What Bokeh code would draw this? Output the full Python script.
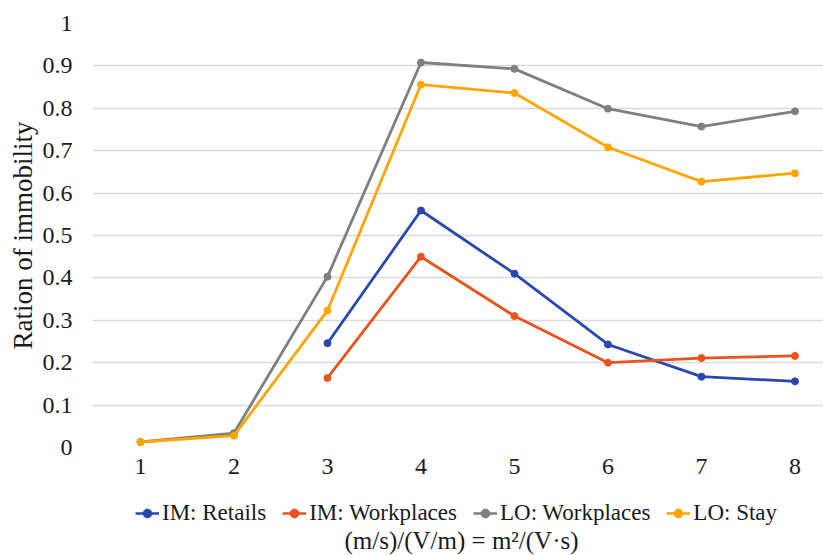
from bokeh.plotting import figure
from bokeh.layouts import column
from bokeh.models import Range1d, FixedTicker, CustomJSTickFormatter, Legend, LegendItem, Label
from bokeh.embed import file_html
from bokeh.resources import INLINE

x_all = [1, 2, 3, 4, 5, 6, 7, 8]
x_im = [3, 4, 5, 6, 7, 8]
im_retails = [0.246, 0.559, 0.410, 0.243, 0.167, 0.156]
im_workplaces = [0.164, 0.450, 0.310, 0.200, 0.211, 0.216]
lo_workplaces = [0.013, 0.034, 0.403, 0.908, 0.893, 0.799, 0.757, 0.793]
lo_stay = [0.013, 0.028, 0.323, 0.856, 0.836, 0.708, 0.627, 0.647]
y_ticks = [0, 0.1, 0.2, 0.3, 0.4, 0.5, 0.6, 0.7, 0.8, 0.9, 1.0]
series_names = ["IM: Retails", "IM: Workplaces", "LO: Workplaces", "LO: Stay"]
series_colors = ["#2A47B0", "#E9541C", "#7F7F7F", "#FFA500"]
x_title = "(m/s)/(V/m) = m²/(V·s)"
y_title = "Ration of immobility"

SERIF = "Liberation Serif"
TXT = "#1a1a1a"
W = 823
LEFT = 92

# ---- main chart ----
p = figure(width=W, height=484, output_backend="svg", toolbar_location=None,
           x_range=Range1d(0.487, 8.305), y_range=Range1d(0, 1.0),
           min_border_left=LEFT, min_border_right=0, min_border_top=23, min_border_bottom=37)
p.outline_line_color = None
p.xgrid.grid_line_color = None
p.ygrid.grid_line_color = "#D9D9D9"
p.ygrid.grid_line_width = 1.5

p.xaxis.ticker = FixedTicker(ticks=x_all)
p.yaxis.ticker = FixedTicker(ticks=y_ticks)
p.yaxis.formatter = CustomJSTickFormatter(code="return String(Math.round(tick*10)/10)")
for ax in (p.xaxis[0], p.yaxis[0]):
    ax.axis_line_color = None
    ax.major_tick_line_color = None
    ax.minor_tick_line_color = None
    ax.major_label_text_font = SERIF
    ax.major_label_text_font_size = "24px"
    ax.major_label_text_color = TXT
p.yaxis.major_label_standoff = 14
p.xaxis.major_label_standoff = 5
p.yaxis.axis_label = y_title
p.yaxis.axis_label_text_font = SERIF
p.yaxis.axis_label_text_font_size = "27px"
p.yaxis.axis_label_text_font_style = "normal"
p.yaxis.axis_label_text_color = TXT
p.yaxis.axis_label_standoff = 2

series_data = [(x_im, im_retails), (x_im, im_workplaces), (x_all, lo_workplaces), (x_all, lo_stay)]
for (xs, ys), col in zip(series_data, series_colors):
    p.line(xs, ys, line_color=col, line_width=2.8)
    p.scatter(xs, ys, marker="circle", size=7, fill_color=col, line_color=col)

# ---- legend + x-axis title strip ----
H2 = 71
q = figure(width=W, height=H2, output_backend="svg", toolbar_location=None,
           x_range=Range1d(0, W - LEFT), y_range=Range1d(0, H2),
           min_border_left=LEFT, min_border_right=0, min_border_top=0, min_border_bottom=0,
           x_axis_type=None, y_axis_type=None)
q.outline_line_color = None
q.grid.grid_line_color = None
nan = float("nan")
items = []
for name, col in zip(series_names, series_colors):
    l = q.line(x=[nan], y=[nan], line_color=col, line_width=2.5)
    s = q.scatter(x=[nan], y=[nan], marker="circle", size=5, fill_color=col, line_color=col)
    items.append(LegendItem(label=name, renderers=[l, s]))
legend = Legend(items=items, orientation="horizontal", location=(43, 29),
                label_text_font=SERIF, label_text_font_size="23px",
                label_text_color=TXT,
                glyph_width=24, glyph_height=22, label_standoff=3, spacing=16,
                padding=0, margin=0, border_line_color=None, background_fill_alpha=0)
q.add_layout(legend, "center")
q.add_layout(Label(x=461 - LEFT, y=15, text=x_title, text_align="center", text_baseline="middle",
                   text_font=SERIF, text_font_size="25px", text_color=TXT))

layout = column(p, q, spacing=0)
open("out.html", "w").write(file_html(layout, INLINE))
